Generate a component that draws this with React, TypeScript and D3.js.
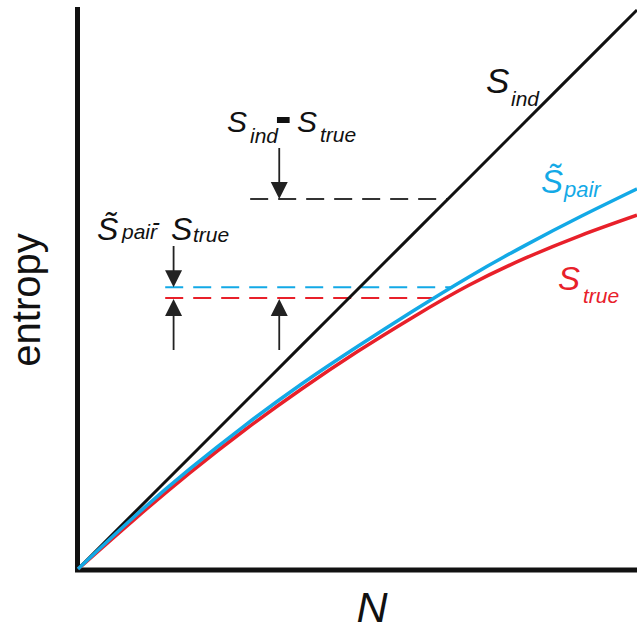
import * as React from 'react';
import * as d3 from 'd3';

// N grid and the three entropy curves (arbitrary units)
const nValues = [0, 1, 2, 3, 4, 5, 6, 7, 8, 9, 10];
const sIndValues = [0, 1, 2, 3, 4, 5, 6, 7, 8, 9, 10];
const sPairValues = [0, 0.93, 1.79, 2.58, 3.31, 3.98, 4.62, 5.23, 5.79, 6.31, 6.80];
const sTrueValues = [0, 0.88, 1.72, 2.50, 3.22, 3.89, 4.51, 5.08, 5.56, 5.97, 6.33];

// dashed reference levels and where they start / stop on the N axis
const indLevel = 6.62;
const pairLevel = 5.04;
const trueLevel = 4.85;
const indDashFrom = 3.08;
const pairDashFrom = 1.56;
const dashTo = [6.62, 6.7, 6.62];

// arrow positions on the N axis
const arrowN = [1.71, 3.6];

const W = 637;
const H = 628;
const BLUE = '#13a9e6';
const RED = '#e8202a';
const FONT = '"Liberation Sans", Arial, sans-serif';

export default function App() {
  const x = d3.scaleLinear().domain([0, 10]).range([78, 637]);
  const y = d3.scaleLinear().domain([0, 10]).range([569, 10]);

  const line = d3.line<number>()
    .x((d, i) => x(nValues[i]))
    .y(d => y(d))
    .curve(d3.curveNatural);

  const arrowHead = (ax: number, tip: number, dir: number) => {
    // dir = 1 pointing down, -1 pointing up
    const base = tip - dir * 17;
    return `M${ax},${tip} L${ax - 8.5},${base} L${ax + 8.5},${base} Z`;
  };

  const xa = x(arrowN[0]);
  const xb = x(arrowN[1]);

  return (
    <svg width={W} height={H} style={{position: 'absolute', left: 0, top: 0, background: '#fff'}}>
      {/* axes */}
      <line x1={77.5} y1={7} x2={77.5} y2={572} stroke="#111" strokeWidth={5} />
      <line x1={75} y1={570} x2={W} y2={570} stroke="#111" strokeWidth={5} />

      {/* dashed levels */}
      <line x1={x(indDashFrom)} x2={x(dashTo[0])} y1={y(indLevel)} y2={y(indLevel)}
        stroke="#333" strokeWidth={2} strokeDasharray="18 10" />
      <line x1={x(pairDashFrom)} x2={x(dashTo[1])} y1={y(pairLevel)} y2={y(pairLevel)}
        stroke={BLUE} strokeWidth={2} strokeDasharray="18 10" />
      <line x1={x(pairDashFrom)} x2={x(dashTo[2])} y1={y(trueLevel)} y2={y(trueLevel)}
        stroke={RED} strokeWidth={2} strokeDasharray="18 10" />

      {/* curves */}
      <path d={line(sTrueValues) || ''} fill="none" stroke={RED} strokeWidth={3.5} />
      <path d={line(sIndValues) || ''} fill="none" stroke="#111" strokeWidth={3} />
      <path d={line(sPairValues) || ''} fill="none" stroke={BLUE} strokeWidth={3.5} />

      {/* arrows */}
      <g stroke="#222" strokeWidth={1.8} fill="#222">
        <line x1={xb} x2={xb} y1={148} y2={y(indLevel) - 10} />
        <path d={arrowHead(xb, y(indLevel), 1)} stroke="none" />
        <line x1={xa} x2={xa} y1={246} y2={y(pairLevel) - 10} />
        <path d={arrowHead(xa, y(pairLevel), 1)} stroke="none" />
        <line x1={xa} x2={xa} y1={350} y2={y(trueLevel) + 10} />
        <path d={arrowHead(xa, y(trueLevel) + 1, -1)} stroke="none" />
        <line x1={xb} x2={xb} y1={350} y2={y(trueLevel) + 10} />
        <path d={arrowHead(xb, y(trueLevel) + 1, -1)} stroke="none" />
      </g>

      <g fontFamily={FONT} fontStyle="italic">
        {/* S_ind - S_true */}
        <text x={227} y={132} fontSize={30} fill="#111">S</text>
        <text x={250} y={143} fontSize={21} fill="#111">ind</text>
        <text x={275} y={133} fontSize={50} fontWeight="bold" fontStyle="normal" fill="#111">-</text>
        <text x={297} y={132} fontSize={30} fill="#111">S</text>
        <text x={320} y={142} fontSize={21} fill="#111">true</text>

        {/* S~pair - S_true */}
        <text x={97} y={240} fontSize={32} fill="#111">S{'\u0303'}</text>
        <text x={122} y={239} fontSize={21} fill="#111">pair</text>
        <text x={152} y={230} fontSize={24} fill="#111">-</text>
        <text x={171} y={240} fontSize={32} fill="#111">S</text>
        <text x={193} y={242} fontSize={21} fill="#111">true</text>

        {/* curve labels */}
        <text x={486} y={93} fontSize={35} fill="#111">S</text>
        <text x={511} y={106} fontSize={21} fill="#111">ind</text>
        <text x={541} y={193} fontSize={33} fill={BLUE}>S{'\u0303'}</text>
        <text x={564} y={197} fontSize={22} fill={BLUE}>pair</text>
        <text x={558} y={290} fontSize={33} fill={RED}>S</text>
        <text x={583} y={303} fontSize={21} fill={RED}>true</text>

        {/* axis labels */}
        <text x={372} y={622} fontSize={43} textAnchor="middle" fill="#111">N</text>
      </g>
      <text transform="translate(40,300) rotate(-90)" fontFamily={FONT} fontSize={40}
        textAnchor="middle" fill="#111">entropy</text>
    </svg>
  );
}
